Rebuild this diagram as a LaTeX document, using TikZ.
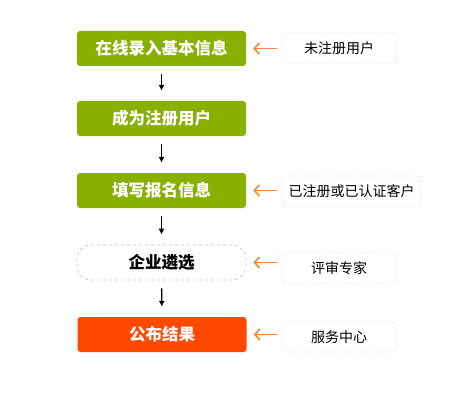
\documentclass[tikz,border=0pt]{standalone}
\usepackage{fontspec}
\newfontfamily\cjk{Noto Sans CJK SC}
\usetikzlibrary{arrows.meta}
\definecolor{boxgreen}{HTML}{88B000}
\definecolor{boxred}{HTML}{FF4800}
\definecolor{arrowor}{HTML}{F08A40}
\definecolor{dotpink}{HTML}{F2C6C0}
\definecolor{dashpink}{HTML}{E8B4C4}
\tikzset{
  stepbox/.style={rectangle, rounded corners=3pt, minimum width=169pt, minimum height=35pt, inner sep=0pt,
    font=\cjk\bfseries\fontsize{16.5}{16.5}\selectfont, text=white},
  greenbox/.style={stepbox, fill=boxgreen},
  redbox/.style={stepbox, fill=boxred},
  choosebox/.style={stepbox, text=black, draw=dashpink, dashed, line width=0.7pt, rounded corners=14pt},
  rolebox/.style={rectangle, rounded corners=3pt, minimum height=30pt, inner sep=0pt, draw=dotpink, dotted,
    line width=0.8pt, font=\cjk\fontsize{14}{14}\selectfont, text=black},
  downarrow/.style={-{Latex[length=6pt,width=6pt]}, line width=1.4pt, black, shorten <=8pt, shorten >=10pt},
  rolearrow/.style={-{Straight Barb[length=5pt,width=11pt]}, line width=1.7pt, arrowor}
}
\begin{document}
\begin{tikzpicture}[x=1pt,y=-1pt]
\useasboundingbox (0,0) rectangle (461,412);
\node[greenbox] (b1) at (161.5,48.5) {在线录入基本信息};
\node[greenbox] (b2) at (161.5,118.5) {成为注册用户};
\node[greenbox] (b3) at (161.5,190.5) {填写报名信息};
\node[choosebox] (b4) at (161.5,262.5) {企业遴选};
\node[redbox] (b5) at (162,334.5) {公布结果};
\node[rolebox, minimum width=114pt] (r1) at (339,48) {未注册用户};
\node[rolebox, minimum width=139pt] (r3) at (351.5,191) {已注册或已认证客户};
\node[rolebox, minimum width=114pt] (r4) at (339,268) {评审专家};
\node[rolebox, minimum width=114pt] (r5) at (339,337) {服务中心};
\draw[downarrow] (b1) -- (b2);
\draw[downarrow] (b2) -- (b3);
\draw[downarrow] (b3) -- (b4);
\draw[downarrow] (b4) -- (b5);
\draw[rolearrow] ([xshift=-5pt]r1.west |- b1.east) coordinate (a1) -- ([xshift=7pt]b1.east);
\draw[rolearrow] ([xshift=-5pt]r3.west |- b3.east) coordinate (a3) -- ([xshift=7pt]b3.east);
\draw[rolearrow] ([xshift=-5pt]r4.west |- b4.east) coordinate (a4) -- ([xshift=7pt]b4.east);
\draw[rolearrow] ([xshift=-5pt]r5.west |- b5.east) coordinate (a5) -- ([xshift=7pt]b5.east);
\end{tikzpicture}
\end{document}
